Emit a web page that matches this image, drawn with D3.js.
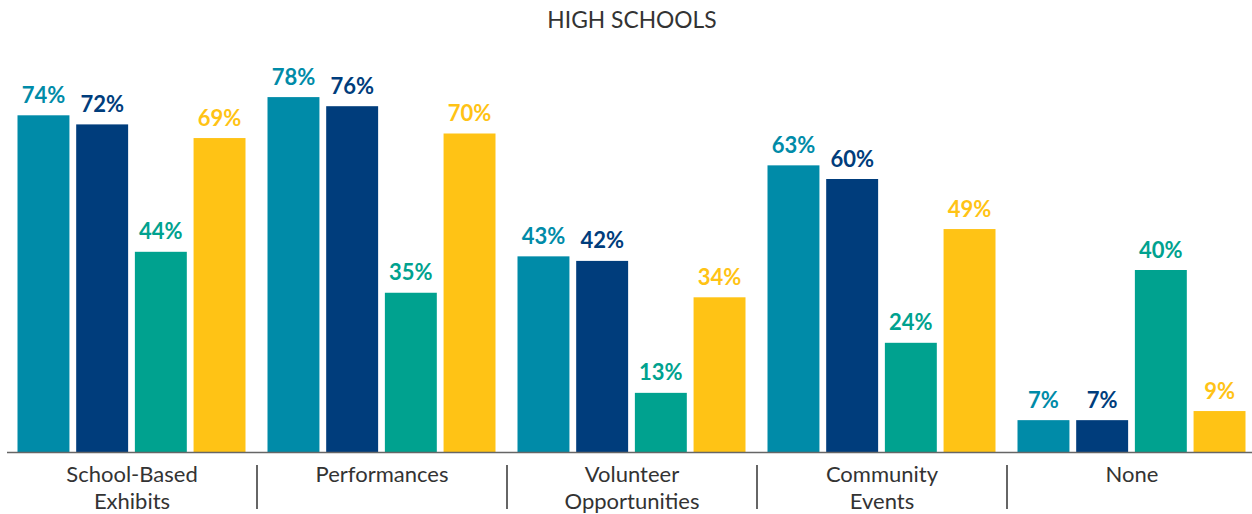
<!DOCTYPE html>
<html>
<head>
<meta charset="utf-8">
<script src="https://cdn.jsdelivr.net/npm/d3@7"></script>
<style>
  body { margin: 0; background: #fff; }
  svg { display: block; font-family: Lato, "Open Sans", sans-serif; }
</style>
</head>
<body>
<div id="chart"></div>
<script>
// categories and values
var categories = [["School-Based", "Exhibits"], ["Performances"], ["Volunteer", "Opportunities"], ["Community", "Events"], ["None"]];
var series = ["s1", "s2", "s3", "s4"];
var s1 = [74, 78, 43, 63, 7];
var s2 = [72, 76, 42, 60, 7];
var s3 = [44, 35, 13, 24, 40];
var s4 = [69, 70, 34, 49, 9];
var colors = ["#008ba8", "#003d7c", "#00a28f", "#ffc315"];

var W = 1252, H = 514;
var base = 452;

var svg = d3.select("#chart").append("svg")
    .attr("width", W).attr("height", H);

var catKeys = categories.map(function(c){ return c.join(" "); });
var allVals = [s1, s2, s3, s4];

var x0 = d3.scaleBand().domain(catKeys).range([7, 1257]);
var x1 = d3.scaleBand().domain(series).range([10.5, 238.5]).paddingInner(0.115);
var y = d3.scaleLinear().domain([0, 100]).range([base, base - 455]);

svg.append("text")
    .attr("x", 632).attr("y", 28)
    .attr("text-anchor", "middle")
    .attr("font-size", 22.8)
    .attr("fill", "#333")
    .text("HIGH SCHOOLS");

var group = svg.selectAll(".grp")
    .data(catKeys)
    .enter().append("g")
    .attr("class", "grp")
    .attr("transform", function(d){ return "translate(" + x0(d) + ",0)"; });

group.each(function(cat, ci){
  var g = d3.select(this);
  var rows = series.map(function(s, si){ return {s: s, v: allVals[si][ci], c: colors[si]}; });
  g.selectAll("rect").data(rows).enter().append("rect")
    .attr("x", function(d){ return x1(d.s); })
    .attr("y", function(d){ return y(d.v); })
    .attr("width", x1.bandwidth())
    .attr("height", function(d){ return base - y(d.v); })
    .attr("fill", function(d){ return d.c; });
  g.selectAll(".val").data(rows).enter().append("text")
    .attr("class", "val")
    .attr("x", function(d){ return x1(d.s) + x1.bandwidth() / 2; })
    .attr("y", function(d){ return y(d.v) - 12.5; })
    .attr("text-anchor", "middle")
    .attr("font-size", 22)
    .attr("font-weight", "bold")
    .attr("fill", function(d){ return d.c; })
    .text(function(d){ return d.v + "%"; });
});

// baseline
svg.append("line")
    .attr("x1", 7).attr("x2", W)
    .attr("y1", base + 0.5).attr("y2", base + 0.5)
    .attr("stroke", "#666").attr("stroke-width", 1.5);

// separators between groups
svg.selectAll(".sep")
    .data(catKeys.slice(1))
    .enter().append("line")
    .attr("class", "sep")
    .attr("x1", function(d){ return x0(d); })
    .attr("x2", function(d){ return x0(d); })
    .attr("y1", 465).attr("y2", 509)
    .attr("stroke", "#333").attr("stroke-width", 1.5);

// category labels
categories.forEach(function(lines, i){
  var t = svg.append("text")
      .attr("x", x0(catKeys[i]) + x0.bandwidth() / 2)
      .attr("y", 482)
      .attr("text-anchor", "middle")
      .attr("font-size", 22)
      .attr("fill", "#333");
  lines.forEach(function(l, j){
    t.append("tspan")
      .attr("x", x0(catKeys[i]) + x0.bandwidth() / 2)
      .attr("dy", j ? 26.5 : 0)
      .text(l);
  });
});
</script>
</body>
</html>
